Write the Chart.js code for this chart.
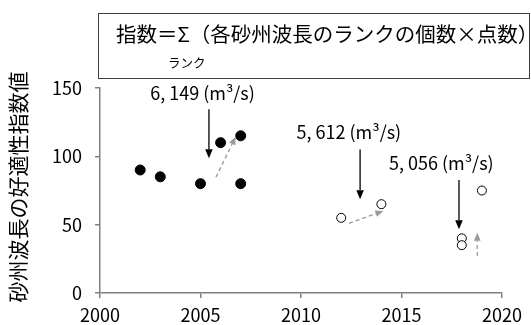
<!DOCTYPE html>
<html lang="ja">
<head>
<meta charset="UTF-8">
<title>砂州波長の好適性指数値</title>
<script src="https://cdn.jsdelivr.net/npm/chart.js"></script>
<style>
    body { margin: 0; background: #fff; }
</style>
</head>
<body>
<canvas id="chart" width="531" height="325"></canvas>
<script>
    // data
    const filledYears = [2002, 2003, 2005, 2006, 2007, 2007];
    const filledValues = [90, 85, 80, 110, 115, 80];
    const openYears = [2012, 2014, 2018, 2018, 2019];
    const openValues = [55, 65, 40, 35, 75];

    const xTicks = [2000, 2005, 2010, 2015, 2020];
    const yTicks = [0, 50, 100, 150];

    // flood discharge notes and arrows (data units)
    const noteTexts = ["6, 149 (m³/s)", "5, 612 (m³/s)", "5, 056 (m³/s)"];
    const noteX = [2005.1, 2012.38, 2016.98];
    const noteY = [146, 118, 95];
    const downX = [2005.42, 2012.94, 2017.86];
    const downFrom = [134.5, 105, 82.7];
    const downTo = [98.6, 68.6, 46.6];
    const trendFrom = [[2005.77, 84.7], [2012.39, 51], [2018.77, 27]];
    const trendTo = [[2006.75, 114.4], [2014.1, 60], [2018.77, 44]];

    const formulaText = "指数＝Σ（各砂州波長のランクの個数×点数）";
    const subText = "ランク";
    const yTitle = "砂州波長の好適性指数値";

    const jp = "'Noto Sans CJK JP', sans-serif";

    function toPoints(xs, ys) {
        return xs.map((x, i) => ({ x: x, y: ys[i] }));
    }

    function arrow(ctx, x1, y1, x2, y2, color, dashed, head) {
        let ang = Math.atan2(y2 - y1, x2 - x1);
        ctx.save();
        ctx.strokeStyle = color;
        ctx.fillStyle = color;
        ctx.lineWidth = 1.3;
        if (dashed) ctx.setLineDash([4, 3]);
        ctx.beginPath();
        ctx.moveTo(x1, y1);
        ctx.lineTo(x2 - Math.cos(ang) * head, y2 - Math.sin(ang) * head);
        ctx.stroke();
        ctx.setLineDash([]);
        ctx.beginPath();
        ctx.moveTo(x2, y2);
        ctx.lineTo(x2 - Math.cos(ang) * head + Math.sin(ang) * head * 0.42,
                   y2 - Math.sin(ang) * head - Math.cos(ang) * head * 0.42);
        ctx.lineTo(x2 - Math.cos(ang) * head - Math.sin(ang) * head * 0.42,
                   y2 - Math.sin(ang) * head + Math.cos(ang) * head * 0.42);
        ctx.closePath();
        ctx.fill();
        ctx.restore();
    }

    const extras = {
        id: "extras",
        afterDraw(chart) {
            const ctx = chart.ctx;
            const xs = chart.scales.x, ys = chart.scales.y;

            // formula box
            ctx.save();
            ctx.strokeStyle = "#404040";
            ctx.lineWidth = 1;
            ctx.strokeRect(98.5, 13.5, 431, 65);
            ctx.fillStyle = "#000";
            ctx.textBaseline = "middle";
            ctx.font = "20.5px " + jp;
            ctx.fillText(formulaText, 116, 34);
            ctx.font = "12.5px " + jp;
            ctx.fillText(subText, 168, 63);

            // y axis title
            ctx.save();
            ctx.translate(18, 187);
            ctx.rotate(-Math.PI / 2);
            ctx.textAlign = "center";
            ctx.font = "21px " + jp;
            ctx.fillText(yTitle, 0, 0);
            ctx.restore();

            // notes
            ctx.textAlign = "center";
            ctx.font = "18px " + jp;
            noteTexts.forEach((t, i) => {
                ctx.fillText(t, xs.getPixelForValue(noteX[i]), ys.getPixelForValue(noteY[i]));
            });
            ctx.restore();

            downX.forEach((x, i) => {
                let px = xs.getPixelForValue(x);
                arrow(ctx, px, ys.getPixelForValue(downFrom[i]), px, ys.getPixelForValue(downTo[i]), "#000", false, 9);
            });
            trendFrom.forEach((f, i) => {
                let t = trendTo[i];
                arrow(ctx, xs.getPixelForValue(f[0]), ys.getPixelForValue(f[1]),
                      xs.getPixelForValue(t[0]), ys.getPixelForValue(t[1]), "#999", true, 8);
            });
        }
    };

    new Chart(document.getElementById("chart"), {
        type: "scatter",
        data: {
            datasets: [
                {
                    data: toPoints(filledYears, filledValues),
                    pointRadius: 5,
                    pointBackgroundColor: "#000",
                    pointBorderColor: "#000",
                    pointBorderWidth: 1
                },
                {
                    data: toPoints(openYears, openValues),
                    pointRadius: 4.5,
                    pointBackgroundColor: "#fff",
                    pointBorderColor: "#000",
                    pointBorderWidth: 1
                }
            ]
        },
        options: {
            responsive: false,
            animation: false,
            layout: { padding: { top: 88, right: 29, left: 0, bottom: 0 } },
            plugins: { legend: { display: false }, tooltip: { enabled: false } },
            scales: {
                x: {
                    type: "linear",
                    min: xTicks[0],
                    max: xTicks[xTicks.length - 1],
                    afterBuildTicks: s => { s.ticks = xTicks.map(v => ({ value: v })); },
                    afterFit: s => { s.height = 32; },
                    border: { color: "#808080", width: 1.5 },
                    grid: { drawOnChartArea: false, tickLength: 5, color: "#808080", lineWidth: 1.5 },
                    ticks: { color: "#000", padding: 6, maxRotation: 0, font: { family: jp, size: 18 },
                             callback: v => String(v) }
                },
                y: {
                    min: yTicks[0],
                    max: yTicks[yTicks.length - 1],
                    afterBuildTicks: s => { s.ticks = yTicks.map(v => ({ value: v })); },
                    afterFit: s => { s.width = 100; },
                    border: { color: "#808080", width: 1.5 },
                    grid: { drawOnChartArea: false, tickLength: 5, color: "#808080", lineWidth: 1.5 },
                    ticks: { color: "#000", padding: 13, font: { family: jp, size: 18 },
                             callback: v => String(v) }
                }
            }
        },
        plugins: [extras]
    });
</script>
</body>
</html>
